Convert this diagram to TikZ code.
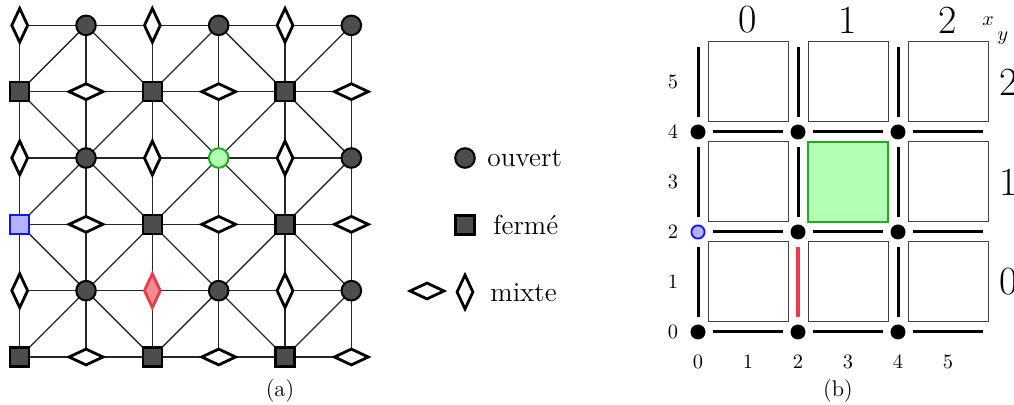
\documentclass[tikz,border=0pt]{standalone}
\usetikzlibrary{shapes.geometric}
\definecolor{nodegray}{RGB}{77,77,77}
\definecolor{hlgreenfill}{RGB}{179,255,179}
\definecolor{hlgreen}{RGB}{34,170,34}
\definecolor{hlbluefill}{RGB}{179,179,255}
\definecolor{hlblue}{RGB}{20,20,240}
\definecolor{hlredfill}{RGB}{242,140,145}
\definecolor{hlred}{RGB}{232,60,75}
\newcommand\fLab{\fontsize{10.2}{12}\selectfont}
\newcommand\fBig{\fontsize{20}{22}\selectfont}
\newcommand\fLeg{\fontsize{13.7}{15}\selectfont}
\newcommand\fCap{\fontsize{11.3}{13}\selectfont}
\pgfdeclarelayer{edges}
\pgfsetlayers{edges,main}
\begin{document}
\begin{tikzpicture}[x=0.5pt,y=-0.5pt,
  lattice/.style={draw=black!85, line width=0.65pt},
  ouv/.style={circle, draw=black, line width=1pt, fill=nodegray, minimum size=9.8pt, inner sep=0pt},
  ferm/.style={rectangle, draw=black, line width=1.2pt, fill=nodegray, minimum size=9.5pt, inner sep=0pt},
  mixv/.style={diamond, draw=black, line width=1.4pt, fill=white, minimum width=8.5pt, minimum height=17.5pt, inner sep=0pt},
  mixh/.style={diamond, draw=black, line width=1.4pt, fill=white, minimum width=17.5pt, minimum height=8.5pt, inner sep=0pt},
  bluehl/.style={fill=hlbluefill, draw=hlblue},
  greenhl/.style={fill=hlgreenfill, draw=hlgreen},
  redhl/.style={fill=hlredfill, draw=hlred},
  legtext/.style={font=\fLeg, inner sep=0pt, anchor=west},
  captext/.style={font=\fCap, inner sep=0pt},
  smalllab/.style={font=\fLab, inner sep=0pt},
  biglab/.style={font=\fBig, inner sep=0pt},
  bdot/.style={circle, fill=black, minimum size=7.5pt, inner sep=0pt},
  bluedot/.style={circle, fill=hlbluefill, draw=hlblue, line width=0.9pt, minimum size=6.6pt, inner sep=0pt},
  bedge/.style={line width=1.5pt, draw=black},
  rededge/.style={line width=1.8pt, draw=hlred},
  cellbox/.style={rectangle, draw=black!75, line width=0.5pt, minimum size=40pt, inner sep=0pt},
  greencell/.style={fill=hlgreenfill, draw=hlgreen, line width=1pt}
]
\useasboundingbox (0,0) rectangle (1014,405);

% ---------------- (a) ----------------
\begin{scope}[shift={(19.7,357)}, x=33.165pt, y=33.165pt]
  \foreach \i in {0,...,5}{
    \foreach \j in {0,...,5}{
      \ifodd\i
        \ifodd\j \def\kind{ouv}\else \def\kind{mixh}\fi
      \else
        \ifodd\j \def\kind{mixv}\else \def\kind{ferm}\fi
      \fi
      \def\extra{}
      \ifnum\i=0 \ifnum\j=2 \def\extra{,bluehl}\fi\fi
      \ifnum\i=3 \ifnum\j=3 \def\extra{,greenhl}\fi\fi
      \ifnum\i=2 \ifnum\j=1 \def\extra{,redhl}\fi\fi
      \edef\mknode{\noexpand\node[\kind\extra] (a-\i-\j) at (\i,\j) {};}
      \mknode
    }
  }
  \begin{pgfonlayer}{edges}
    \foreach \i in {0,...,5}{
      \foreach \j [count=\jn from 1] in {0,...,4}{
        \draw[lattice] (a-\i-\j.center) -- (a-\i-\jn.center);
        \draw[lattice] (a-\j-\i.center) -- (a-\jn-\i.center);
      }
    }
    \foreach \i in {1,3,5}{
      \foreach \j in {1,3,5}{
        \foreach \di in {-1,1}{
          \foreach \dj in {-1,1}{
            \pgfmathtruncatemacro\ii{\i+\di}
            \pgfmathtruncatemacro\jj{\j+\dj}
            \ifnum\ii<6 \ifnum\jj<6
              \draw[lattice] (a-\i-\j.center) -- (a-\ii-\jj.center);
            \fi\fi
          }
        }
      }
    }
  \end{pgfonlayer}
\end{scope}

% legend
\node[ouv] (leg-ouv) at (465,158) {};
\node[legtext] (leg-ouv-t) at (487,158) {ouvert};
\node[ferm] (leg-ferm) at (465,225) {};
\node[legtext] (leg-ferm-t) at (493,225) {fermé};
\node[mixh] (leg-mixh) at (427,291) {};
\node[mixv] (leg-mixv) at (465,292) {};
\node[legtext] (leg-mix-t) at (490,293) {mixte};

\node[captext] (cap-a) at (280,391) {(a)};

% ---------------- (b) ----------------
\begin{scope}[shift={(698,332)}, x=25pt, y=25pt]
  % cells
  \foreach \i in {0,2,4}{
    \foreach \j in {0,2,4}{
      \node[cellbox] (c-\i-\j) at ({\i+1},{\j+1}) {};
    }
  }
  \node[cellbox, greencell] (c-green) at (3,3) {};
  % horizontal edges
  \foreach \j in {0,2,4}{
    \foreach \i in {0,2,4}{
      \draw[bedge] ({\i+0.3},\j) -- ({\i+1.7},\j);
    }
  }
  % vertical edges
  \foreach \i/\j in {0/0,4/0,0/2,2/2,4/2,0/4,2/4,4/4}{
    \draw[bedge] (\i,{\j+0.3}) -- (\i,{\j+1.7});
  }
  \draw[rededge] (2,0.3) -- (2,1.7);
  % dots
  \foreach \i/\j in {0/0,2/0,4/0,2/2,4/2,0/4,2/4,4/4}{
    \node[bdot] (d-\i-\j) at (\i,\j) {};
  }
  \node[bluedot] (d-0-2) at (0,2) {};
  % labels
  \foreach \v in {0,...,5}{
    \node[smalllab] (ly-\v) at (-0.5,\v) {\v};
    \node[smalllab] (lx-\v) at (\v,-0.6) {\v};
  }
  \node[biglab] (tx-0) at (1,6.24) {0};
  \node[biglab] (tx-1) at (3,6.24) {1};
  \node[biglab] (tx-2) at (5,6.24) {2};
  \node[biglab] (ty-2) at (6.22,5) {2};
  \node[biglab] (ty-1) at (6.22,3) {1};
  \node[biglab] (ty-0) at (6.22,1) {0};
  \node[smalllab] (lab-x) at (5.8,6.22) {$x$};
  \node[smalllab] (lab-y) at (6.1,5.88) {$y$};
\end{scope}

\node[captext] (cap-b) at (838,391) {(b)};
\end{tikzpicture}
\end{document}
